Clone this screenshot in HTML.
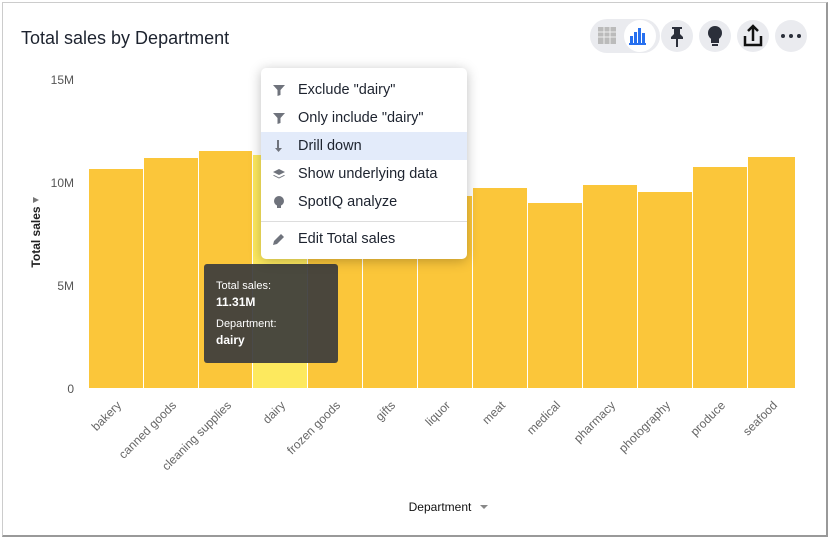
<!DOCTYPE html>
<html><head><meta charset="utf-8"><style>
body{margin:0;width:831px;height:543px;background:#fff;overflow:hidden;font-family:"Liberation Sans",sans-serif;}
.card{position:absolute;left:2px;top:2px;width:823px;height:532px;border:1px solid #ccc;border-right:2px solid #999;border-bottom:2px solid #999;background:#fff;}
.title{position:absolute;font-size:18px;color:#1d232f;}
.menu{position:absolute;left:261px;top:68px;width:206px;height:191px;background:#fff;border-radius:5px;box-shadow:0 2px 12px rgba(0,0,0,.25);font-size:14.5px;color:#1d232f;}
.mi{position:absolute;left:0;width:206px;height:28px;line-height:28px;}
.mi span{position:absolute;left:37px;}
.mi svg{position:absolute;left:12px;top:8px;}
.tip{position:absolute;left:204px;top:264px;width:134px;height:99px;background:rgba(60,60,60,.93);border-radius:3px;color:#fff;font-size:11px;}
</style></head><body>
<div class="card">
<div class="title" style="left:18px;top:25px">Total sales by Department</div>
</div>
<div style="position:absolute;left:590px;top:19px;width:70px;height:34px;border-radius:17px;background:#eaebef"></div>
<div style="position:absolute;left:624px;top:20px;width:32px;height:32px;border-radius:16px;background:#fff"></div>
<svg style="position:absolute;left:0;top:0" width="831" height="543">
<rect x="598" y="27" width="18" height="17" fill="#bbb"/>
<g stroke="#eee" stroke-width="1"><line x1="598" y1="32" x2="616" y2="32"/><line x1="598" y1="37" x2="616" y2="37"/><line x1="604" y1="27" x2="604" y2="44"/><line x1="610" y1="27" x2="610" y2="44"/></g>
<g fill="#2770ef"><rect x="630" y="36" width="3" height="7"/><rect x="634" y="32" width="3" height="11"/><rect x="638" y="28" width="3" height="15"/><rect x="642" y="33" width="3" height="10"/><rect x="629" y="43" width="17" height="2"/></g>
<circle cx="677" cy="36" r="16" fill="#eaebef"/><circle cx="715" cy="36" r="16" fill="#eaebef"/><circle cx="753" cy="36" r="16" fill="#eaebef"/><circle cx="791" cy="36" r="16" fill="#eaebef"/>
<path d="M672 27h10v2h-2v5l3 3v2h-12v-2l3-3v-5h-2z M676 39h2v8h-2z" fill="#2b2f3a"/>
<circle cx="715" cy="33" r="7" fill="#2b2f3a"/><rect x="711" y="38" width="8" height="5" fill="#2b2f3a"/><rect x="712" y="44" width="6" height="2" fill="#2b2f3a"/>
<path d="M745 36v9h16v-9" fill="none" stroke="#111" stroke-width="2.5"/><path d="M753 41v-14M748 31l5-5 5 5" fill="none" stroke="#111" stroke-width="2.5"/>
<g fill="#2b2f3a"><circle cx="783" cy="36" r="2"/><circle cx="791" cy="36" r="2"/><circle cx="799" cy="36" r="2"/></g>
<g font-size="12" fill="#555" text-anchor="end"><text x="74" y="84">15M</text><text x="74" y="187">10M</text><text x="74" y="290">5M</text><text x="74" y="393">0</text></g>
<text transform="translate(40,237) rotate(-90)" text-anchor="middle" font-size="12" font-weight="bold" fill="#222">Total sales</text>
<path d="M33 203l3-6 3 6z" fill="#777" transform="rotate(90 36 200)"/>
<g fill="#fbc63a">
<rect x="89" y="169" width="54" height="219"/><rect x="144" y="158" width="54" height="230"/><rect x="199" y="151" width="53" height="237"/>
<rect x="253" y="155" width="54" height="233" fill="#fde95e"/>
<rect x="308" y="185" width="54" height="203"/><rect x="363" y="190" width="54" height="198"/><rect x="418" y="196" width="54" height="192"/><rect x="473" y="188" width="54" height="200"/><rect x="528" y="203" width="54" height="185"/><rect x="583" y="185" width="54" height="203"/><rect x="638" y="192" width="54" height="196"/><rect x="693" y="167" width="54" height="221"/><rect x="748" y="157" width="47" height="231"/>
</g>
<g font-size="12" fill="#666" text-anchor="end">
<text transform="translate(122,406) rotate(-45)">bakery</text>
<text transform="translate(177,406) rotate(-45)">canned goods</text>
<text transform="translate(232,406) rotate(-45)">cleaning supplies</text>
<text transform="translate(286,406) rotate(-45)">dairy</text>
<text transform="translate(341,406) rotate(-45)">frozen goods</text>
<text transform="translate(396,406) rotate(-45)">gifts</text>
<text transform="translate(451,406) rotate(-45)">liquor</text>
<text transform="translate(506,406) rotate(-45)">meat</text>
<text transform="translate(561,406) rotate(-45)">medical</text>
<text transform="translate(616,406) rotate(-45)">pharmacy</text>
<text transform="translate(671,406) rotate(-45)">photography</text>
<text transform="translate(726,406) rotate(-45)">produce</text>
<text transform="translate(778,406) rotate(-45)">seafood</text>
</g>
<text x="440" y="511" text-anchor="middle" font-size="12" fill="#111">Department</text>
<path d="M480 505h8l-4 4z" fill="#888"/>
</svg>
<div class="tip"><div style="position:absolute;left:12px;top:16px">Total sales:</div><div style="position:absolute;left:12px;top:31px;font-weight:bold;font-size:12px">11.31M</div><div style="position:absolute;left:12px;top:54px">Department:</div><div style="position:absolute;left:12px;top:69px;font-weight:bold;font-size:12px">dairy</div></div>
<div class="menu">
<div class="mi" style="top:8px"><svg width="12" height="12"><path d="M0 1h12l-4.5 5v5l-3 1v-6z" fill="#6f737c"/></svg><span>Exclude "dairy"</span></div>
<div class="mi" style="top:36px"><svg width="12" height="12"><path d="M0 1h12l-4.5 5v5l-3 1v-6z" fill="#6f737c"/></svg><span>Only include "dairy"</span></div>
<div class="mi" style="top:64px;background:#e3ebfa"><svg width="12" height="12"><path d="M3 0h2v8h3l-3.5 4-3.5-4h2z" fill="#6f737c" transform="translate(1,0)"/></svg><span>Drill down</span></div>
<div class="mi" style="top:92px"><svg width="12" height="12"><path d="M6 1l6 3-6 3-6-3z M1 7l5 2.5 5-2.5 1 .5-6 3-6-3z" fill="#6f737c"/></svg><span>Show underlying data</span></div>
<div class="mi" style="top:120px"><svg width="12" height="13"><circle cx="6" cy="5" r="5" fill="#6f737c"/><rect x="4" y="9" width="4" height="3" fill="#6f737c"/></svg><span>SpotIQ analyze</span></div>
<div style="position:absolute;left:0;top:153px;width:206px;height:1px;background:#ddd"></div>
<div class="mi" style="top:157px"><svg width="12" height="12"><path d="M0 12l1-4 7-7 3 3-7 7z" fill="#6f737c"/></svg><span>Edit Total sales</span></div>
</div>
</body></html>
